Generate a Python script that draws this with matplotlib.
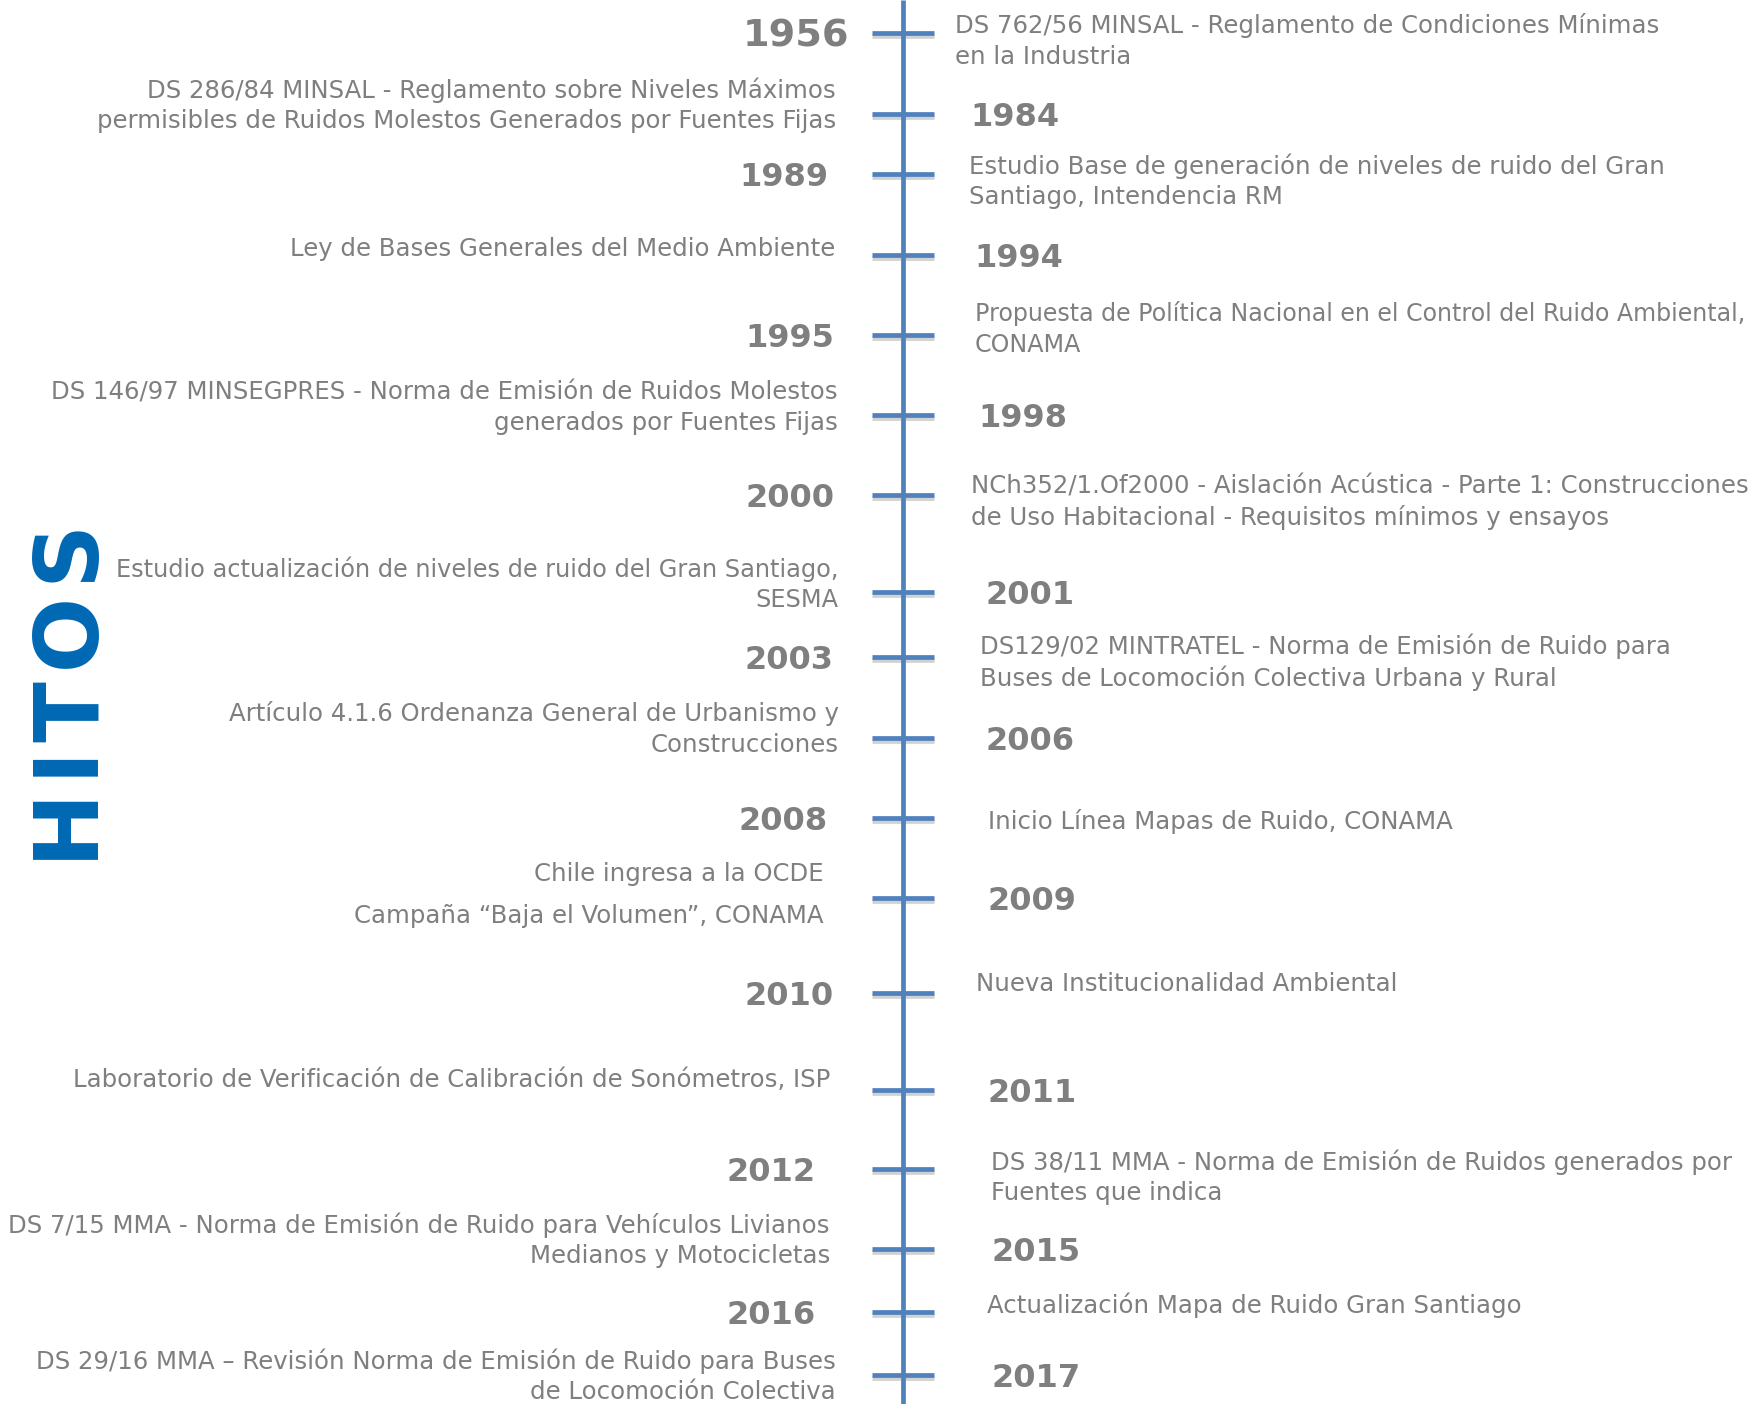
import matplotlib
matplotlib.use("Agg")
import matplotlib.pyplot as plt
import matplotlib.patheffects as pe

# timeline milestones (Chile noise regulation)
years = ["1956", "1984", "1989", "1994", "1995", "1998", "2000", "2001", "2003",
         "2006", "2008", "2009", "2010", "2011", "2012", "2015", "2016", "2017"]

events = [
    "DS 762/56 MINSAL - Reglamento de Condiciones Mínimas\nen la Industria",
    "DS 286/84 MINSAL - Reglamento sobre Niveles Máximos\npermisibles de Ruidos Molestos Generados por Fuentes Fijas",
    "Estudio Base de generación de niveles de ruido del Gran\nSantiago, Intendencia RM",
    "Ley de Bases Generales del Medio Ambiente",
    "Propuesta de Política Nacional en el Control del Ruido Ambiental,\nCONAMA",
    "DS 146/97 MINSEGPRES - Norma de Emisión de Ruidos Molestos\ngenerados por Fuentes Fijas",
    "NCh352/1.Of2000 - Aislación Acústica - Parte 1: Construcciones\nde Uso Habitacional - Requisitos mínimos y ensayos",
    "Estudio actualización de niveles de ruido del Gran Santiago,\nSESMA",
    "DS129/02 MINTRATEL - Norma de Emisión de Ruido para\nBuses de Locomoción Colectiva Urbana y Rural",
    "Artículo 4.1.6 Ordenanza General de Urbanismo y\nConstrucciones",
    "Inicio Línea Mapas de Ruido, CONAMA",
    "Chile ingresa a la OCDE\nCampaña \u201cBaja el Volumen\u201d, CONAMA",
    "Nueva Institucionalidad Ambiental",
    "Laboratorio de Verificación de Calibración de Sonómetros, ISP",
    "DS 38/11 MMA - Norma de Emisión de Ruidos generados por\nFuentes que indica",
    "DS 7/15 MMA - Norma de Emisión de Ruido para Vehículos Livianos\nMedianos y Motocicletas",
    "Actualización Mapa de Ruido Gran Santiago",
    "DS 29/16 MMA \u2013 Revisión Norma de Emisión de Ruido para Buses\nde Locomoción Colectiva",
]

# layout (pixels on the 1764x1404 canvas)
tick_y = [33, 114, 174, 255, 335, 415, 495, 592, 657, 738, 818, 898, 993, 1090,
          1169, 1249, 1312, 1375]
desc_y = [41, 105, 181, 249, 329, 408, 502, 584, 662, 729, 822, 895, 984, 1080,
          1177, 1240, 1305, 1376]
year_x = [849, 970, 828, 974, 834, 978, 835, 986, 833, 986, 828, 988, 834, 988,
          816, 991, 816, 991]
desc_x = [955, 836, 969, 835, 975, 838, 971, 838, 980, 839, 988, 824, 976, 830,
          991, 830, 987, 836]
desc_fs = [17.6] * len(years)
desc_fs[4] = 17.1
desc_fs[7] = 17.3
line_gap = [1.33] * len(years)
line_gap[11] = 1.9

AXIS_X = 903
BLUE = "#4f81bd"
GRAY = "#7f7f7f"

fig = plt.figure(figsize=(17.64, 14.04), dpi=100)
ax = fig.add_axes([0, 0, 1, 1])
ax.set_xlim(0, 1764)
ax.set_ylim(1404, 0)
ax.axis("off")

shadow = [pe.SimpleLineShadow(offset=(0, -2.5), shadow_color="#999999", alpha=0.45),
          pe.Normal()]

ax.plot([AXIS_X, AXIS_X], [0, 1404], color=BLUE, lw=3.4, solid_capstyle="butt",
        zorder=3)

for i, yr in enumerate(years):
    ty = tick_y[i]
    ax.plot([872, 934], [ty, ty], color=BLUE, lw=3.4, solid_capstyle="butt",
            path_effects=shadow, zorder=2)

    year_left = i % 2 == 0
    fs = 27.5 if i == 0 else 23
    cap = 0.729 * fs * 100 / 72
    ax.text(year_x[i], ty + cap / 2, yr, ha="right" if year_left else "left",
            va="baseline", fontsize=fs, fontweight="bold", color=GRAY,
            family="DejaVu Sans")

    ax.text(desc_x[i], desc_y[i], events[i],
            ha="left" if year_left else "right",
            multialignment="left" if year_left else "right",
            va="center", fontsize=desc_fs[i], color=GRAY, family="DejaVu Sans",
            linespacing=line_gap[i])

ax.text(75, 695, "H\u200aI\u200aT\u200aO\u200aS", rotation=90, ha="center",
        va="center", fontsize=64, fontweight="bold", color="#0068b4",
        family="DejaVu Sans")

fig.savefig("out.png", dpi=100)
